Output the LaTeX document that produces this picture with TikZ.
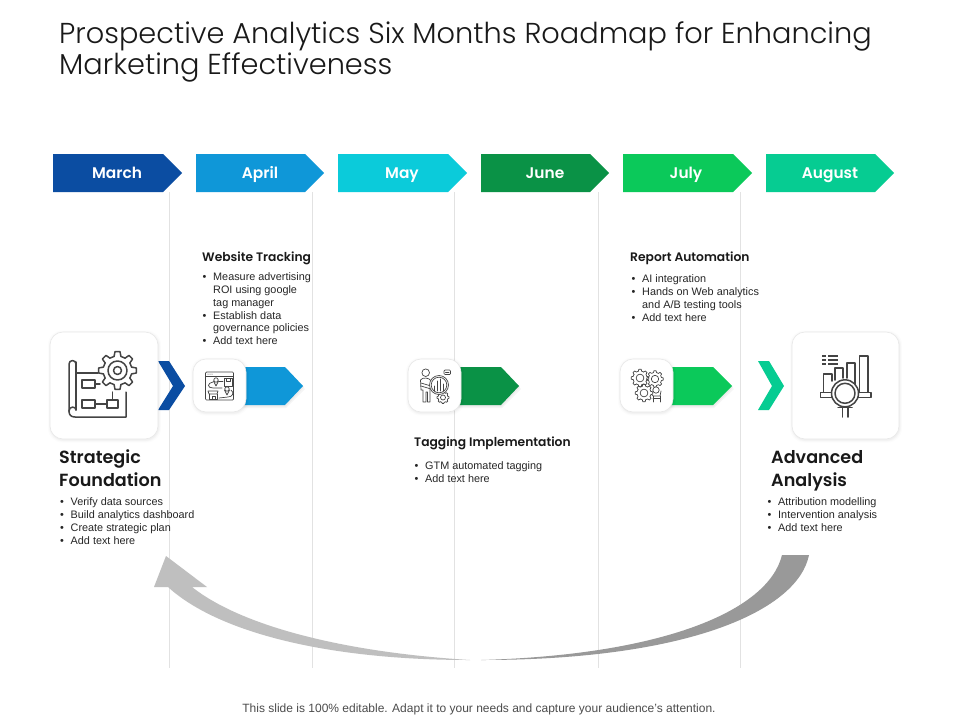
\documentclass[tikz,border=0pt]{standalone}
\usepackage{fontspec}
\setmainfont{Liberation Sans}
\newfontfamily\geo[BoldFont={Poppins SemiBold}]{Poppins Light}
\definecolor{cMar}{HTML}{0B4DA2}
\definecolor{cApr}{HTML}{0F97D8}
\definecolor{cMay}{HTML}{0BCBDA}
\definecolor{cJun}{HTML}{0A9246}
\definecolor{cJul}{HTML}{0BC95A}
\definecolor{cAug}{HTML}{06CC92}
\definecolor{ink}{HTML}{444444}
\definecolor{gridc}{HTML}{E2E2E2}
\newcommand{\bu}{\makebox[10.5pt][l]{•}}
\newcommand{\ind}{\hspace*{10.5pt}}
\newcommand{\gearshape}[5]{% x y R r teeth
  \begin{scope}[shift={(#1,#2)}]
  \foreach \gi in {1,...,#5}{
    \pgfmathsetmacro{\ga}{360/#5*\gi}
    \pgfmathsetmacro{\gs}{360/#5}
    \draw ({\ga-0.30*\gs}:#4) -- ({\ga-0.17*\gs}:#3) -- ({\ga+0.17*\gs}:#3) -- ({\ga+0.30*\gs}:#4)
      arc[start angle={\ga+0.30*\gs}, end angle={\ga+0.70*\gs}, x radius=#4, y radius=#4];
  }
  \end{scope}}
\newcommand{\iconbox}[4]{% x0 y0 x1 y1
  \foreach \s/\o in {2.5/.012,1.5/.018,.7/.025}{
    \fill[black,opacity=\o,rounded corners=14pt] (#1-\s+.5,#2-\s+1) rectangle (#3+\s+.5,#4+\s+1);
  }
  \filldraw[fill=white,draw=gridc!80,line width=.6pt,rounded corners=13pt] (#1,#2) rectangle (#3,#4);}
\newcommand{\stagearrow}[4]{% x0 shoulder tip colour
  \fill[black!35,opacity=.10] (#1,368+2) -- (#2+1,368+2) -- (#3+2,387+2) -- (#2+1,405+3) -- (#1,405+3) -- cycle;
  \fill[black!35,opacity=.12] (#1,367+1) -- (#2+1,367+1) -- (#3+1,386+1) -- (#2+1,405+1.5) -- (#1,405+1.5) -- cycle;
  \fill[#4] (#1,367) -- (#2,367) -- (#3,386) -- (#2,405) -- (#1,405) -- cycle;}
\tikzset{
  month/.style={text=white,font=\geo\bfseries\fontsize{15.4}{16}\selectfont,inner sep=0pt,text height=11pt,text depth=3pt},
  head/.style={anchor=west,inner sep=0pt,text=black!90,font=\geo\bfseries\fontsize{12.3}{14}\selectfont},
  bighead/.style={anchor=north west,inner sep=0pt,align=left,text=black!90,font=\geo\bfseries\fontsize{17.6}{23.2}\selectfont},
  body/.style={anchor=north west,inner sep=0pt,align=left,text=black!85,font=\fontsize{10.85}{12.85}\selectfont},
  vline/.style={draw=gridc,line width=.7pt},
  ic/.style={draw=ink,line width=1.5pt,line join=round,line cap=round},
  ics/.style={draw=ink,line width=.7pt,line join=round,line cap=round},
}
\begin{document}
\begin{tikzpicture}[x=1pt,y=-1pt]
\useasboundingbox (0,0) rectangle (960,720);
\fill[white] (0,0) rectangle (960,720);

% vertical lines
\foreach \x in {169.5,312.5,454.5,598,740.5}{\draw[vline] (\x,192) -- (\x,668);}

% title
\node[anchor=north west,inner sep=0pt,align=left,text=black!90,font=\geo\fontsize{28.8}{31.2}\selectfont] (title) at (59,21)
  {Prospective Analytics Six Months Roadmap for Enhancing\\Marketing Effectiveness};

% month arrows
\fill[cMar] (53,154) -- (163,154) -- (182,173) -- (163,192) -- (53,192) -- cycle;
\fill[cApr] (196,154) -- (305,154) -- (324,173) -- (305,192) -- (196,192) -- cycle;
\fill[cMay] (338,154) -- (448,154) -- (467,173) -- (448,192) -- (338,192) -- cycle;
\fill[cJun] (481,154) -- (590,154) -- (609,173) -- (590,192) -- (481,192) -- cycle;
\fill[cJul] (623,154) -- (733,154) -- (752,173) -- (733,192) -- (623,192) -- cycle;
\fill[cAug] (766,154) -- (875,154) -- (894,173) -- (875,192) -- (766,192) -- cycle;
\node[month] (mMar) at (117,174) {March};
\node[month] (mApr) at (260,174) {April};
\node[month] (mMay) at (402,174) {May};
\node[month] (mJun) at (545,174) {June};
\node[month] (mJul) at (686,174) {July};
\node[month] (mAug) at (830,174) {August};

% stage arrows
\stagearrow{240}{285}{303}{cApr}
\stagearrow{455}{501}{519}{cJun}
\stagearrow{667}{713}{732}{cJul}

% chevrons
\fill[cMar] (158,361) -- (169,361) -- (185,386) -- (169,410) -- (158,410) -- (173,386) -- cycle;
\fill[cAug] (758,361) -- (769,361) -- (784,386) -- (769,410) -- (758,410) -- (772,386) -- cycle;

% boxes
\iconbox{50}{332}{158}{439}
\iconbox{193}{359}{246}{412}
\iconbox{408}{359}{461}{412}
\iconbox{620}{359}{673}{412}
\iconbox{792}{332}{899}{439}

% left icon
\begin{scope}[ic]
\gearshape{117.5}{370.5}{19}{14.5}{8}
\draw (117.5,370.5) circle (9.5);
\draw (117.5,370.5) circle (4);
\draw (98,373) -- (77,373);
\draw (76,362) -- (76,410);
\draw (76,364) arc[start angle=0,end angle=-180,x radius=3.5,y radius=3.5] -- (69,411);
\draw (69,411) .. controls (69,406) and (76,406) .. (76,410);
\draw (69,411) .. controls (69,415) and (71,417) .. (75,417) -- (126,417) -- (126,392);
\draw (82,380) rectangle (95,388);
\draw (95,384) -- (100,384);
\draw (82,400) rectangle (95,408);
\draw (107,400) rectangle (118,408);
\draw (95,404) -- (107,404);
\draw (112.5,400) -- (112.5,392);
\end{scope}

% April icon
\begin{scope}[ics]
\draw[rounded corners=1pt] (205.5,372) rectangle (233.5,400);
\draw (205.5,376.5) -- (233.5,376.5);
\foreach \x in {208,210,212}{\fill[ink] (\x,374.2) circle (.5);}
\draw (224,378.5) rectangle (232,386);
\draw (226,378.5) -- (226,381) -- (230,381) -- (230,378.5);
\draw (216,380) circle (2.2);
\draw (213.5,381) -- (216,386) -- (218.5,381);
\draw (219,381) -- (223,381);
\draw (213,382) .. controls (207,383) and (207,388) .. (213,388) -- (222,388);
\draw (227,389) circle (2.2);
\draw (224.5,390) -- (227,395) -- (229.5,390);
\draw (231,390) .. controls (235,393) and (232,397) .. (228,397) -- (219,398);
\draw (208,391) -- (218,391) -- (217,394) -- (209,394) -- cycle;
\draw (209,394) -- (209,399) -- (217,399) -- (217,394);
\draw (212,399) -- (212,396) -- (215,396) -- (215,399);
\end{scope}

% May icon
\begin{scope}[ics]
\draw (425.7,372.7) circle (3.8);
\draw (431,381) .. controls (430,377.5) and (422,377) .. (420.5,380) -- (421,390) -- (423,390) -- (423,402) -- (426,402) -- (426,392) -- (427.5,392) -- (427.5,402) -- (430,402) -- (430,389);
\draw (421,383) -- (431,386);
\draw (421,386) -- (431,389);
\gearshape{443}{397.5}{6}{5}{8}
\draw (443,397.5) circle (2.5);
\fill[white] (439,385) circle (9.5);
\draw (439,385) circle (9.5);
\draw (439,385) circle (7.8);
\foreach \x/\t in {434.5/386,437.5/381,440.5/379,443.5/384}{\draw (\x,391) -- (\x,\t);}
\draw[rounded corners=1pt] (444,370) rectangle (450.5,374.5);
\draw (445.5,372.2) -- (449,372.2);
\end{scope}

% July icon
\begin{scope}[ics]
\gearshape{640}{378}{8.8}{7}{8}
\draw (640,378) circle (3.9);
\gearshape{655}{379}{8.3}{6.6}{8}
\draw (655,379) circle (3.7);
\gearshape{644}{393}{8.8}{7}{8}
\draw (644,393) circle (3.9);
\fill[white] (656,390) circle (3.2);
\draw (656,390) circle (3.2);
\draw (651,394) -- (653,396) -- (660,396) -- (661,391);
\draw (653,396) -- (653,402);
\draw (660,396) -- (660,402);
\draw (653,398) -- (660,398);
\end{scope}

% right icon
\begin{scope}[ic]
\draw (823.5,392) -- (823.5,374) -- (832,374) -- (832,381);
\draw (835,380) -- (835,368) -- (843,368) -- (843,378);
\draw (847,378) -- (847,363) -- (855,363) -- (855,392);
\draw (859.5,392) -- (859.5,356) -- (868,356) -- (868,392);
\draw (820.5,392.5) rectangle (871,397.5);
\fill[white] (845,393.3) circle (13);
\draw (845,393.3) circle (13.5);
\draw (845,393.3) circle (10);
\draw (838,407.5) -- (852,407.5);
\draw (842.5,408) -- (842.5,417);
\draw (848,408) -- (848,417);
\foreach \y in {356,360,364}{
  \draw[line cap=butt] (822,\y) -- (826,\y);
  \draw[line cap=butt] (828,\y) -- (838,\y);
}
\end{scope}

% texts
\node[head] (hWeb) at (202,258) {Website Tracking};
\node[body] (tWeb) at (202.5,272.5) {\bu Measure advertising\\\ind ROI using google\\\ind tag manager\\\bu Establish data\\\ind governance policies\\\bu Add text here};
\node[head] (hRep) at (630,258) {Report Automation};
\node[body] (tRep) at (631.5,274.5) {\bu AI integration\\\bu Hands on Web analytics\\\ind and A/B testing tools\\\bu Add text here};
\node[head] (hTag) at (414,443) {Tagging Implementation};
\node[body] (tTag) at (414.5,461.5) {\bu GTM  automated tagging\\\bu Add text here};
\node[bighead] (hStr) at (59,449.5) {Strategic\\Foundation};
\node[body] (tStr) at (60,497.5) {\bu Verify data sources\\\bu Build analytics dashboard\\\bu Create strategic plan\\\bu Add text here};
\node[bighead] (hAdv) at (771,450) {Advanced\\Analysis};
\node[body] (tAdv) at (767.5,497.5) {\bu Attribution modelling\\\bu Intervention analysis\\\bu Add text here};

% big return arrow
\fill[black!40] (809,555) .. controls (798,610) and (690,660) .. (481,660)
  .. controls (660,655) and (768,612) .. (782,555) -- cycle;
\fill[black!25] (166,556) -- (154,587) -- (168,587) .. controls (215,630) and (320,660) .. (470,660)
  .. controls (340,652) and (240,625) .. (192,587) -- (207,587) -- cycle;

% footer
\node[inner sep=0pt,text=black!70,font=\fontsize{12}{14}\selectfont] (foot) at (479,709) {This slide is 100\% editable. Adapt it to your needs and capture your audience's attention.};
\end{tikzpicture}
\end{document}
